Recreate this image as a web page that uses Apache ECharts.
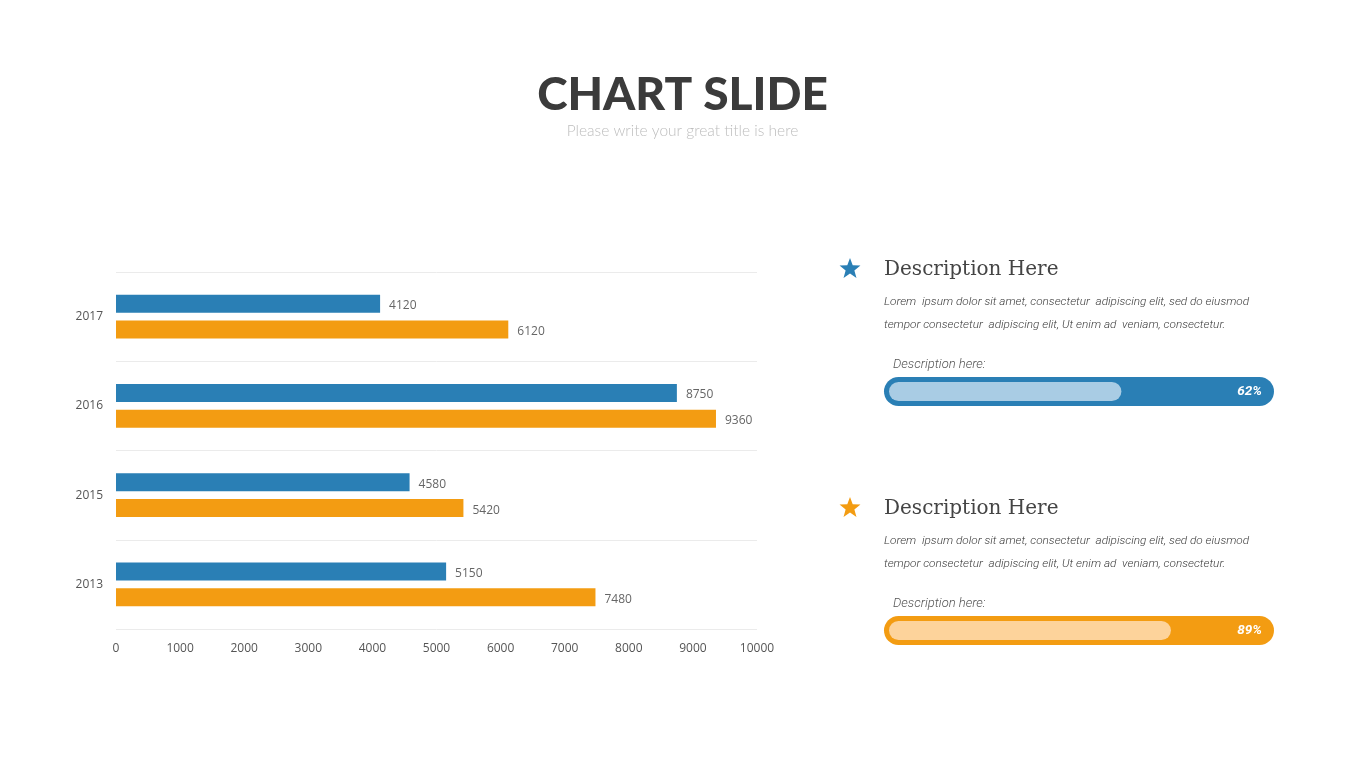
<!DOCTYPE html>
<html>
<head>
<meta charset="utf-8">
<script src="https://cdn.jsdelivr.net/npm/echarts@6/dist/echarts.min.js"></script>
<style>
html,body{margin:0;padding:0;background:#fff;}
#main{width:1365px;height:768px;}
</style>
</head>
<body>
<div id="main"></div>
<script>
// ---- data ----
var years = ['2017', '2016', '2015', '2013'];
var seriesBlue = [4120, 8750, 4580, 5150];
var seriesOrange = [6120, 9360, 5420, 7480];
var xTicks = [0, 1000, 2000, 3000, 4000, 5000, 6000, 7000, 8000, 9000, 10000];
var progressLabels = ['62%', '89%'];
var progressFill = [61, 74]; // fill length as drawn in the picture (% of track)
var descTitles = ['Description Here', 'Description Here'];
var descLine1 = 'Lorem  ipsum dolor sit amet, consectetur  adipiscing elit, sed do eiusmod';
var descLine2 = 'tempor consectetur  adipiscing elit, Ut enim ad  veniam, consectetur.';
var descSmall = 'Description here:';

var BLUE = '#2a7fb5';
var ORANGE = '#f39c12';
var LIGHTBLUE = '#a9cce4';
var LIGHTORANGE = '#fdd39b';

var chart = echarts.init(document.getElementById('main'));

function star(cx, cy, R, r) {
  var pts = [];
  for (var i = 0; i < 10; i++) {
    var a = -Math.PI / 2 + i * Math.PI / 5;
    var rad = (i % 2 === 0) ? R : r;
    pts.push([cx + rad * Math.cos(a), cy + rad * Math.sin(a)]);
  }
  return pts;
}

var graphics = [
  {type:'text', left:'center', top:72, style:{text:'CHART SLIDE', fontSize:46, fontWeight:900, fontFamily:'Lato, "Open Sans", sans-serif', fill:'#3b3b3b'}},
  {type:'text', left:'center', top:123, style:{text:'Please write your great title is here', fontSize:15.5, fontWeight:300, fontFamily:'Lato, "Open Sans", sans-serif', fill:'#bdbdbd'}}
];

var blockTops = [270, 509];
var accent = [BLUE, ORANGE];
for (var b = 0; b < 2; b++) {
  var y0 = blockTops[b];
  graphics.push({type:'polygon', shape:{points: star(850, y0 - 1, 11, 4.6)}, style:{fill: accent[b]}});
  graphics.push({type:'text', x:884, y:y0, style:{text:descTitles[b], fontSize:20, fontFamily:'"DejaVu Serif", serif', fontWeight:300, fill:'#444', textVerticalAlign:'middle'}});
  graphics.push({type:'text', x:884, y:y0 + 32, style:{text:descLine1, fontSize:11.8, fontStyle:'italic', fontWeight:300, fontFamily:'Roboto, sans-serif', fill:'#3a3a3a', textVerticalAlign:'middle'}});
  graphics.push({type:'text', x:884, y:y0 + 55, style:{text:descLine2, fontSize:11.8, fontStyle:'italic', fontWeight:300, fontFamily:'Roboto, sans-serif', fill:'#3a3a3a', textVerticalAlign:'middle'}});
  graphics.push({type:'text', x:893, y:y0 + 95, style:{text:descSmall, fontSize:13, fontStyle:'italic', fontWeight:300, fontFamily:'Roboto, sans-serif', fill:'#555', textVerticalAlign:'middle'}});
}

var hiddenAxisX = function (gi) { return {type:'value', gridIndex:gi, min:0, max:100, show:false}; };
var hiddenAxisY = function (gi) { return {type:'category', gridIndex:gi, data:['a'], show:false}; };

var option = {
  backgroundColor: '#fff',
  animation: false,
  graphic: graphics,
  grid: [
    {left:116, right:608, top:272, bottom:139},
    {left:884, width:390, top:377, height:29},
    {left:889, width:381, top:382, height:19},
    {left:884, width:390, top:616, height:29},
    {left:889, width:381, top:621, height:19}
  ],
  xAxis: [
    {type:'value', gridIndex:0, min:xTicks[0], max:xTicks[xTicks.length-1], interval:xTicks[1]-xTicks[0],
     axisLine:{show:false}, axisTick:{show:false}, splitLine:{show:false},
     axisLabel:{color:'#555', fontSize:12, margin:14, fontFamily:'"Open Sans", sans-serif', formatter:function(v){return String(v);}}},
    hiddenAxisX(1), hiddenAxisX(2), hiddenAxisX(3), hiddenAxisX(4)
  ],
  yAxis: [
    {type:'category', gridIndex:0, data:years, inverse:true,
     axisLine:{show:false}, axisTick:{show:false},
     splitLine:{show:true, lineStyle:{color:'#ebebeb', width:1}},
     axisLabel:{color:'#555', fontSize:12, margin:13, padding:[4,0,0,0], fontFamily:'"Open Sans", sans-serif'}},
    hiddenAxisY(1), hiddenAxisY(2), hiddenAxisY(3), hiddenAxisY(4)
  ],
  series: [
    {type:'bar', xAxisIndex:0, yAxisIndex:0, data:seriesBlue, barWidth:18, barGap:'44%',
     itemStyle:{color:BLUE},
     label:{show:true, position:'right', distance:9, offset:[0,2], color:'#666', fontSize:12, fontFamily:'"Open Sans", sans-serif'}},
    {type:'bar', xAxisIndex:0, yAxisIndex:0, data:seriesOrange, barWidth:18, barGap:'44%',
     itemStyle:{color:ORANGE},
     label:{show:true, position:'right', distance:9, offset:[0,2], color:'#666', fontSize:12, fontFamily:'"Open Sans", sans-serif'}},
    {type:'bar', xAxisIndex:1, yAxisIndex:1, data:[100], barWidth:29, z:2,
     itemStyle:{color:BLUE, borderRadius:14.5},
     label:{show:true, position:'insideRight', distance:12, formatter:progressLabels[0], color:'#fff', fontSize:13.5, fontWeight:'bold', fontStyle:'italic', fontFamily:'Roboto, sans-serif'}},
    {type:'bar', xAxisIndex:2, yAxisIndex:2, data:[progressFill[0]], barWidth:19, z:3,
     itemStyle:{color:LIGHTBLUE, borderRadius:9.5}},
    {type:'bar', xAxisIndex:3, yAxisIndex:3, data:[100], barWidth:29, z:2,
     itemStyle:{color:ORANGE, borderRadius:14.5},
     label:{show:true, position:'insideRight', distance:12, formatter:progressLabels[1], color:'#fff', fontSize:13.5, fontWeight:'bold', fontStyle:'italic', fontFamily:'Roboto, sans-serif'}},
    {type:'bar', xAxisIndex:4, yAxisIndex:4, data:[progressFill[1]], barWidth:19, z:3,
     itemStyle:{color:LIGHTORANGE, borderRadius:9.5}}
  ]
};
chart.setOption(option);
</script>
</body>
</html>
